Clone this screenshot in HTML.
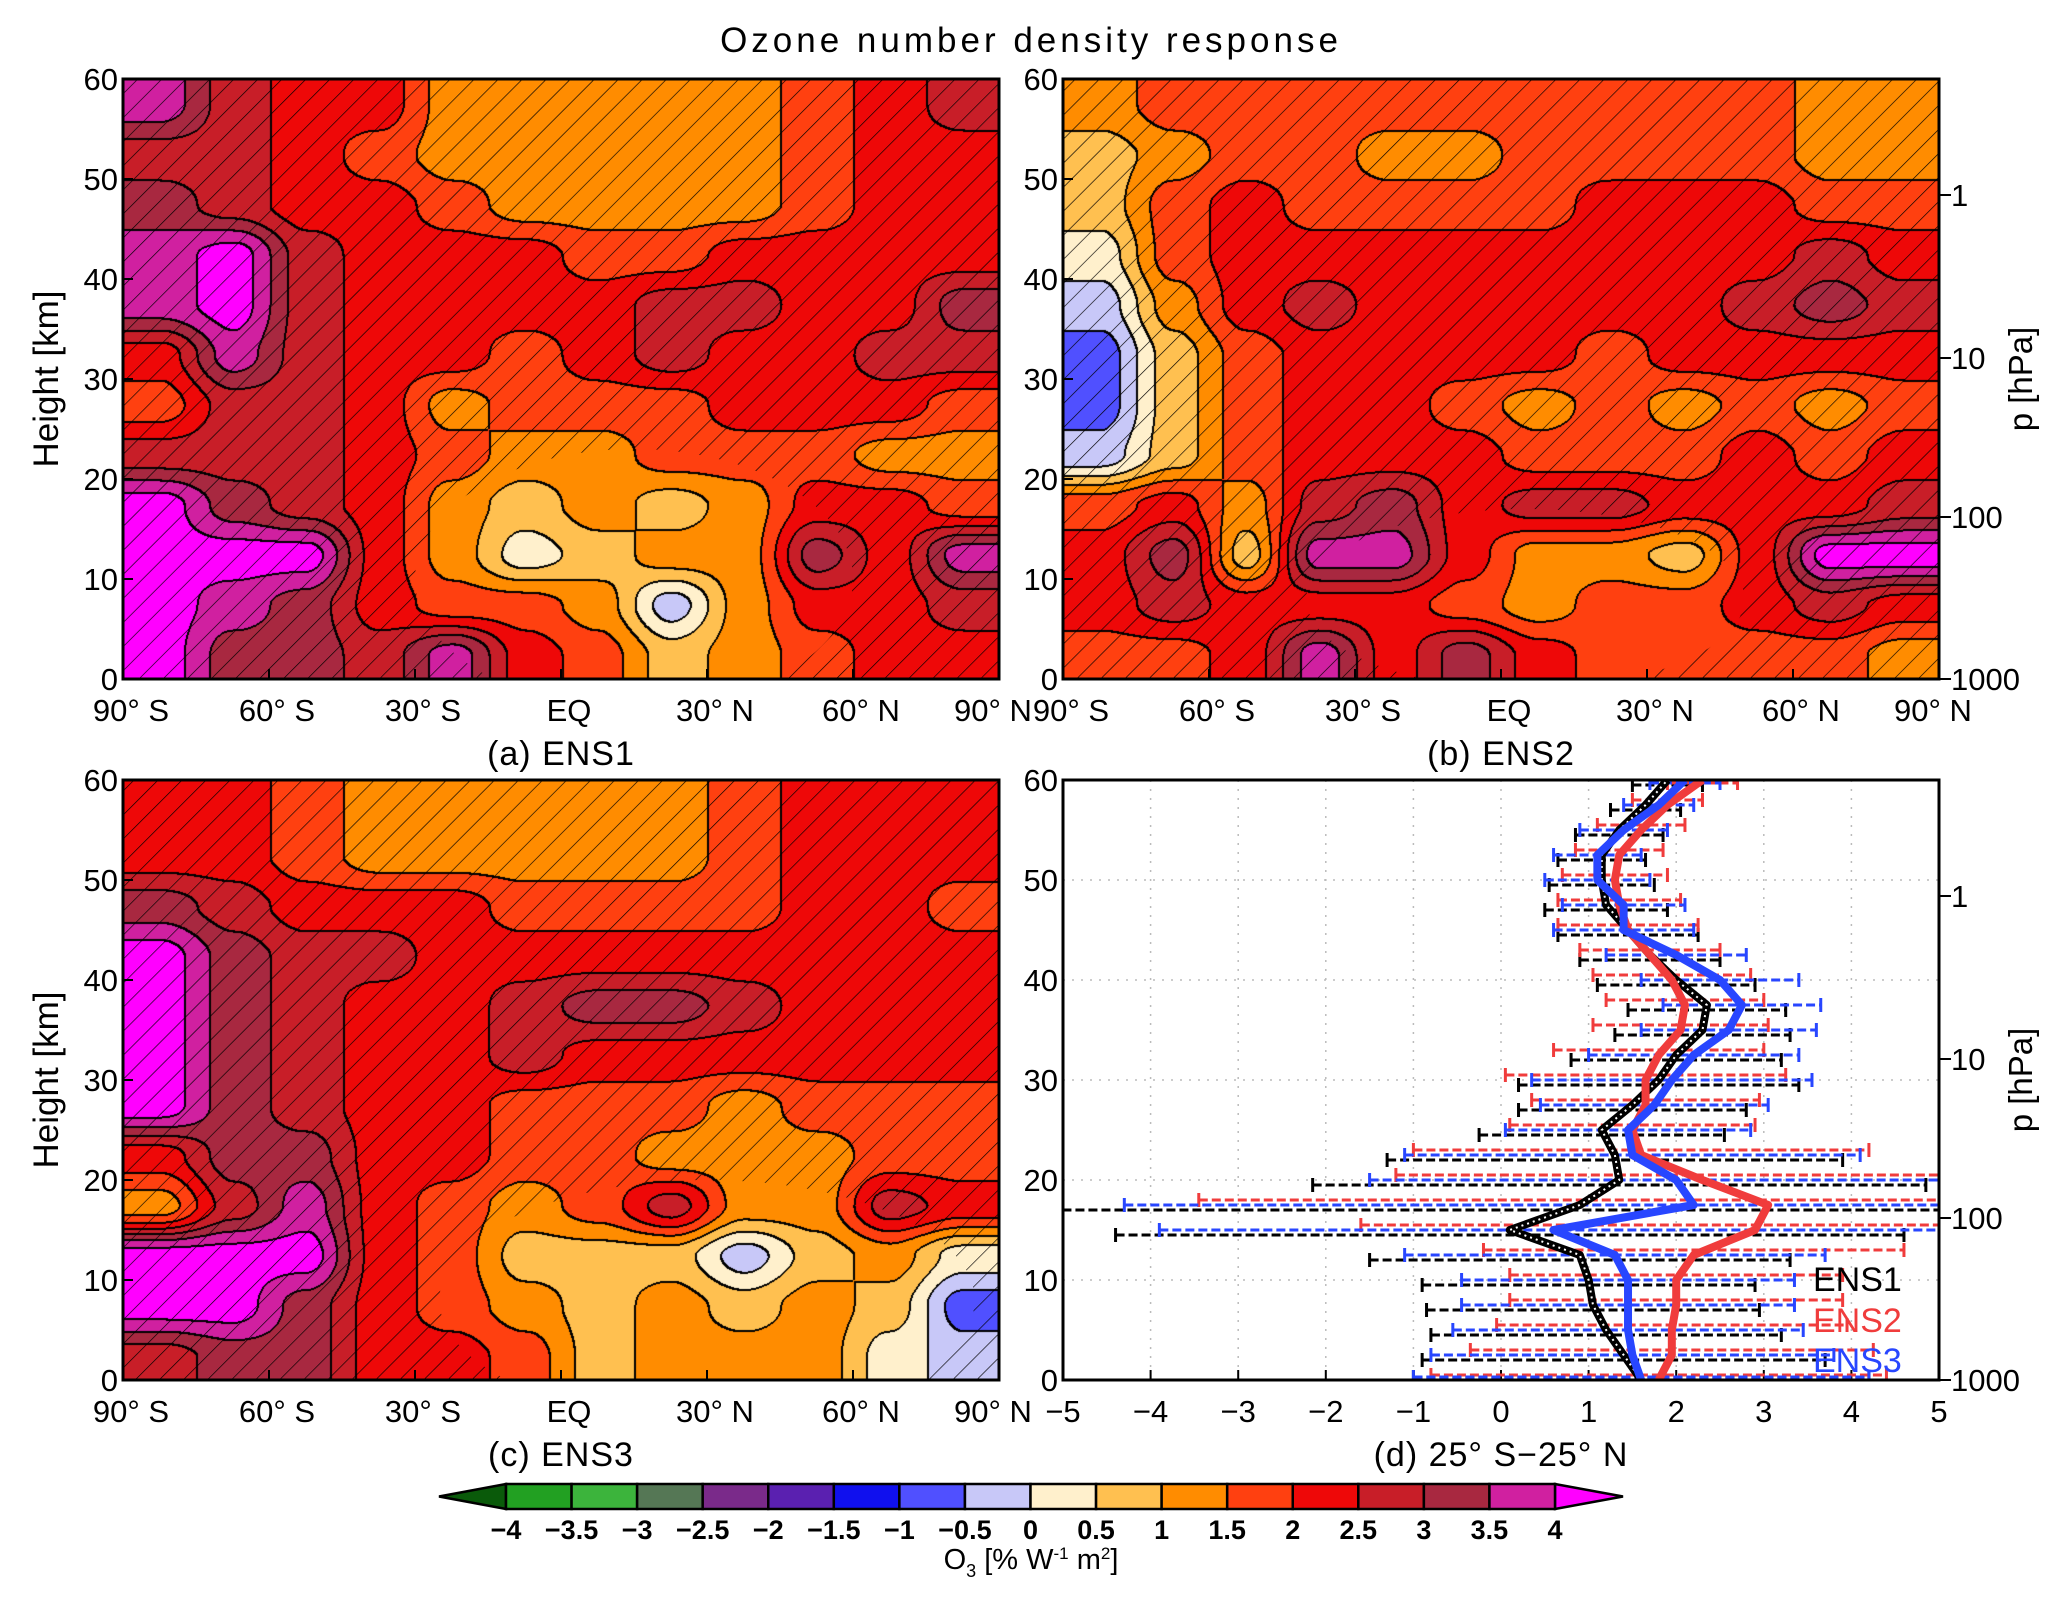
<!DOCTYPE html>
<html><head><meta charset="utf-8">
<style>
html,body{margin:0;padding:0;background:#fff;}
#wrap{position:relative;width:2067px;height:1605px;overflow:hidden;background:#fff;font-family:"Liberation Sans",sans-serif;}
canvas{position:absolute;}
svg{position:absolute;left:0;top:0;}
</style></head>
<body>
<div id="wrap">
<canvas id="ca" width="876" height="600" style="left:123px;top:79px"></canvas>
<canvas id="cb" width="876" height="600" style="left:1063px;top:79px"></canvas>
<canvas id="cc" width="876" height="600" style="left:123px;top:780px"></canvas>
<svg id="s" width="2067" height="1605" xmlns="http://www.w3.org/2000/svg">
<defs>
<pattern id="hatch" patternUnits="userSpaceOnUse" width="17" height="17" patternTransform="rotate(45)">
<line x1="0" y1="0" x2="0" y2="17" stroke="#000" stroke-width="1.3"/>
</pattern>
</defs>
</svg>
</div>
<script>
// ---------- data ----------
const lats = [-90,-60,-30,0,30,60,90];
const latLabels = ["90° S","60° S","30° S","EQ","30° N","60° N","90° N"];
const heightTicks = [0,10,20,30,40,50,60];
const pTicks = [1000,100,10,1];
const pTickHeights = [0,16.2,32.1,48.4];
// grids: rows top (55-60 km) to bottom (0-5 km), columns 90S -> 90N (15° each)
const ens1Grid = [
[3.5,2.5,2,2,1,1,1,1,1,1.5,2,2.5],
[2.5,2.5,2,1.5,1,1,1,1,1,1.5,2,2],
[3,2.5,2,2,1.5,1,1,1,1,1.5,2,2],
[3.5,4,2.5,2,2,2,1.5,1.5,2,2,2,2],
[3.5,4,2.5,2,2,2,2,2.5,2.5,2,2,3],
[2,3.5,2.5,2,2,1.5,2,2.5,2,2,2.5,2.5],
[1.5,2.5,2.5,2,1,1.5,1.5,1.5,2,2,2,1.5],
[2.5,2.5,2.5,2,1.5,1,1,1.5,1.5,1.5,1,1],
[4,3,2.5,2,1,0.5,1,0.5,1,2,2,1.5],
[4,4,4,2,1,0,0.5,1,1,3,2,3.5],
[4,3.5,3,2,1.5,1.5,1,-0.5,1,2,2,2.5],
[4,3,3,2.5,3.5,2,1.5,0.5,1,1.5,2,2]];
const ens2Grid = [
[1,1.5,1.5,1.5,1.5,1.5,1.5,1.5,1.5,1.5,1,1],
[0.5,1,1.5,1.5,1,1,1.5,1.5,1.5,1.5,1,1],
[0.5,1.5,2,1.5,1.5,1.5,1.5,2,2,2,1.5,1.5],
[0,1.5,2,2,2,2,2,2,2,2,2.5,2],
[-0.5,1,2,2.5,2,2,2,2,2,2.5,3,2.5],
[-1,0.5,1.5,2,2,2,2,1.5,2,2,2,2],
[-1,0.5,1.5,2,2,1.5,1,1.5,1,1.5,1,1.5],
[-0.5,0.5,1.5,2,2,2,1.5,1.5,1.5,2,1.5,2],
[1.5,2,1,2.5,3,2,2.5,2.5,2,2,2,2.5],
[2,3,0.5,3.5,3.5,2,1,1,0.5,2,4,4],
[2,2.5,2,2,2,1.5,1,1.5,1.5,2,2.5,2],
[1.5,1.5,2,3.5,2,3,2,1.5,1.5,1.5,1.5,1]];
const ens3Grid = [
[2,2,1.5,1,1,1,1,1,1.5,2,2,2],
[2,2,1.5,1,1,1,1,1,1.5,2,2,2],
[3,2.5,2,2,2,1.5,1.5,1.5,1.5,2,2,1.5],
[4,3,2.5,2.5,2,2,2,2,2,2,2,2],
[4,3,2.5,2,2,2.5,3,3,2.5,2,2,2],
[4,3,2.5,2,2,2.5,2,2,2,2,2,2],
[4,3,2.5,2,2,1.5,1.5,1.5,1,1.5,1.5,1.5],
[2,3,3,2,2,1.5,1.5,1,1,1,1.5,1.5],
[1,2.5,3.5,2,1.5,1,1.5,2.5,1,1,2.5,2],
[4,4,4,2,1.5,0.5,0.5,0.5,-0.5,0.5,1,0],
[4,4,3,2,1.5,1,0.5,1,0.5,1,0.5,-1],
[2.5,3,3,2,2,1.5,0.5,1,1,1,0,-0.5]];
// panel d profiles
const profHeights = [0,2.5,5,7.5,10,12.5,15,17.5,20,22.5,25,27.5,30,32.5,35,37.5,40,42.5,45,47.5,50,52.5,55,57.5,60];
const ens1Prof = [1.6,1.4,1.2,1.05,1.0,0.9,0.1,0.9,1.35,1.3,1.15,1.5,1.8,2.0,2.3,2.35,2.0,1.7,1.45,1.2,1.15,1.15,1.35,1.65,1.9];
const ens2Prof = [1.8,1.95,1.95,2.0,2.0,2.2,2.9,3.05,2.3,1.6,1.5,1.65,1.65,1.8,2.05,2.1,1.95,1.7,1.45,1.35,1.3,1.35,1.6,1.9,2.3];
const ens3Prof = [1.6,1.5,1.45,1.45,1.45,1.3,0.6,2.2,2.0,1.5,1.45,1.75,1.95,2.2,2.6,2.75,2.5,2.0,1.4,1.4,1.1,1.1,1.4,1.8,2.1];
const profErr = [2.6,2.3,2.0,1.9,1.9,2.4,4.5,6.5,3.5,2.6,1.4,1.3,1.6,1.2,1.0,0.9,0.9,0.8,0.8,0.7,0.6,0.5,0.5,0.4,0.4];
const xTicksD = [-5,-4,-3,-2,-1,0,1,2,3,4,5];
const cbLevels = ["−4","−3.5","−3","−2.5","−2","−1.5","−1","−0.5","0","0.5","1","1.5","2","2.5","3","3.5","4"];

// ---------- styles ----------
const colors = ["#0a5a0a","#22a022","#3cb43c","#557755","#7a2a8a","#5a20b0","#1010ee","#5050ff","#c8c8f8","#fff0cc","#ffc050","#ff8c00","#ff4010","#ee0808","#c81e28","#a82840","#d020a0","#ff00ff"];
const W=876,H=600;
const panels = {a:{x:123,y:79},b:{x:1063,y:79},c:{x:123,y:780},d:{x:1063,y:780}};
const NS="http://www.w3.org/2000/svg";
const svg=document.getElementById('s');
function el(tag,attrs,parent){const e=document.createElementNS(NS,tag);for(const k in attrs)e.setAttribute(k,attrs[k]);(parent||svg).appendChild(e);return e;}
function txt(x,y,s,size,anchor,extra){const t=el('text',Object.assign({x:x,y:y,'font-size':size,'text-anchor':anchor||'middle','font-family':'"Liberation Sans",sans-serif',fill:'#000'},extra||{}));t.textContent=s;return t;}
function hexRGB(h){return [parseInt(h.substr(1,2),16),parseInt(h.substr(3,2),16),parseInt(h.substr(5,2),16)];}
const rgb=colors.map(hexRGB);

function levelIdx(v){let i=Math.floor((v+0.25+4)/0.5)+1;return Math.max(0,Math.min(17,i));}
function sample(g,u,v){
  const nc=g[0].length,nr=g.length;
  u=Math.max(0,Math.min(nc-1,u));v=Math.max(0,Math.min(nr-1,v));
  const i0=Math.floor(u),j0=Math.floor(v),i1=Math.min(nc-1,i0+1),j1=Math.min(nr-1,j0+1);
  let fu=u-i0,fv=v-j0;fu=fu*fu*(3-2*fu);fv=fv*fv*(3-2*fv);
  return (g[j0][i0]*(1-fu)+g[j0][i1]*fu)*(1-fv)+(g[j1][i0]*(1-fu)+g[j1][i1]*fu)*fv;
}
function drawHeat(id,g){
  const c=document.getElementById(id),ctx=c.getContext('2d');
  const img=ctx.createImageData(W,H),d=img.data;
  const idx=new Uint8Array(W*H);
  const nc=g[0].length,nr=g.length;
  for(let y=0;y<H;y++)for(let x=0;x<W;x++){
    const u=x/W*nc-0.5,v=y/H*nr-0.5;
    idx[y*W+x]=levelIdx(sample(g,u,v));
  }
  for(let y=0;y<H;y++)for(let x=0;x<W;x++){
    const k=y*W+x;let col=rgb[idx[k]];
    let edge=(x>0&&idx[k-1]!==idx[k])||(y>0&&idx[k-W]!==idx[k])||(x>1&&idx[k-2]!==idx[k-1])||(y>1&&idx[k-2*W]!==idx[k-W]);
    if(edge)col=[0,0,0];
    d[k*4]=col[0];d[k*4+1]=col[1];d[k*4+2]=col[2];d[k*4+3]=255;
  }
  ctx.putImageData(img,0,0);
}
drawHeat('ca',ens1Grid);drawHeat('cb',ens2Grid);drawHeat('cc',ens3Grid);

function xLat(p,lat){return p.x+(lat+90)/180*W;}
function yH(p,h){return p.y+H-h/60*H;}

// hatch masks
const holes={a:{lat:15,h:10,rx:45,ry:13},b:{lat:5,h:8,rx:45,ry:9},c:{lat:30,h:8,rx:55,ry:12}};
const defs=svg.querySelector('defs');
for(const k of ['a','b','c']){
  const p=panels[k],ho=holes[k];
  const m=el('mask',{id:'m'+k},defs);
  el('rect',{x:p.x,y:p.y,width:W,height:H,fill:'#fff'},m);
  el('ellipse',{cx:xLat(p,ho.lat),cy:yH(p,ho.h),rx:ho.rx/180*W,ry:ho.ry/60*H,fill:'#000'},m);
  const r=el('rect',{x:p.x,y:p.y,width:W,height:H,fill:'url(#hatch)',mask:'url(#m'+k+')'});
  
  
}

// axes
const names={a:"(a)  ENS1",b:"(b)  ENS2",c:"(c)  ENS3",d:"(d)  25° S−25° N"};
for(const k of ['a','b','c','d']){
  const p=panels[k];
  const g=el('g',{});
  
  
  heightTicks.forEach(h=>{
    el('line',{x1:p.x,x2:p.x+10,y1:yH(p,h),y2:yH(p,h),stroke:'#000','stroke-width':2},g);
    const t=txt(p.x-5,yH(p,h)+11,String(h),31,'end');g.appendChild(t);
  });
  if(k!=='d'){
    lats.forEach((la,i)=>{
      el('line',{x1:xLat(p,la),x2:xLat(p,la),y1:p.y+H,y2:p.y+H-10,stroke:'#000','stroke-width':2},g);
      const t=txt(xLat(p,la)+(i===6?-6:8),p.y+H+42,latLabels[i],31,'middle');g.appendChild(t);
    });
  }
  if(k==='b'||k==='d'){
    pTicks.forEach((pv,i)=>{
      const y=yH(p,pTickHeights[i]);
      el('line',{x1:p.x+W,x2:p.x+W+12,y1:y,y2:y,stroke:'#000','stroke-width':2},g);
      const t=txt(p.x+W+12,y+11,String(pv),31,'start');g.appendChild(t);
    });
    const t=txt(2032,p.y+H/2,"p  [hPa]",33,'middle',{transform:'rotate(-90 2032 '+(p.y+H/2)+')'});
    
  }
  if(k==='a'||k==='c'){
    const cy=p.y+H/2;
    const t=txt(58,cy,"Height [km]",35,'middle',{transform:'rotate(-90 58 '+cy+')'});
    
  }
  const lab=txt(p.x+W/2,p.y+H+86,names[k],34,'middle',{'letter-spacing':'1'});
  
}

// panel d
const pd=panels.d;
function xD(v){return pd.x+(v+5)/10*W;}
el('rect',{x:pd.x,y:pd.y,width:W,height:H,fill:'#fff'});
const gd=el('g',{});

xTicksD.forEach(v=>{
  if(v>-5&&v<5)el('line',{x1:xD(v),x2:xD(v),y1:pd.y,y2:pd.y+H,stroke:'#bbb','stroke-width':1.5,'stroke-dasharray':'2 7'},gd);
  el('line',{x1:xD(v),x2:xD(v),y1:pd.y+H,y2:pd.y+H-10,stroke:'#000','stroke-width':2},gd);
  txt(xD(v),pd.y+H+42,v<0?"−"+Math.abs(v):String(v),31,'middle');
});
heightTicks.forEach(h=>{if(h>0&&h<60)el('line',{x1:pd.x,x2:pd.x+W,y1:yH(pd,h),y2:yH(pd,h),stroke:'#bbb','stroke-width':1.5,'stroke-dasharray':'2 7'},gd);});
const clip=el('clipPath',{id:'cd'},defs);
el('rect',{x:pd.x,y:pd.y,width:W,height:H},clip);
const series=[{name:'ENS1',vals:ens1Prof,col:'#000',off:-0.5},{name:'ENS2',vals:ens2Prof,col:'#f03c3c',off:0.5},{name:'ENS3',vals:ens3Prof,col:'#2846ff',off:0}];
const gb=el('g',{'clip-path':'url(#cd)'});
series.forEach(s=>{
  s.vals.forEach((v,i)=>{
    const h=profHeights[i]+s.off,y=yH(pd,Math.max(0.3,Math.min(59.7,h)));
    const e=profErr[i];
    const l=el('line',{x1:xD(v-e),x2:xD(v+e),y1:y,y2:y,stroke:s.col,'stroke-width':3,'stroke-dasharray':'9 4'},gb);
    
    
    el('line',{x1:xD(v-e),x2:xD(v-e),y1:y-7,y2:y+7,stroke:s.col,'stroke-width':3},gb);
    el('line',{x1:xD(v+e),x2:xD(v+e),y1:y-7,y2:y+7,stroke:s.col,'stroke-width':3},gb);
  });
});
series.forEach(s=>{
  const pts=s.vals.map((v,i)=>xD(v)+','+yH(pd,profHeights[i])).join(' ');
  const pl=el('polyline',{points:pts,fill:'none',stroke:s.col,'stroke-width':8,'stroke-linejoin':'round'},gb);
  
  
  if(s.name==='ENS1')el('polyline',{points:pts,fill:'none',stroke:'#fff','stroke-width':2,'stroke-dasharray':'2 4'},gb);
});
[['ENS1','#000',1291],['ENS2','#f03c3c',1332],['ENS3','#2846ff',1372]].forEach(a=>{
  const t=txt(1813,a[2],a[0],34,'start',{fill:a[1]});
  
});

// frames
for(const k in panels){const p=panels[k];const f=el('rect',{x:p.x,y:p.y,width:W,height:H,fill:'none',stroke:'#000','stroke-width':3});}

// title
const tt=txt(1031,52,"Ozone number density response",35,'middle',{'letter-spacing':'4'});


// colorbar
const cb=el('g',{});

const cbx0=506,cbx1=1555,cby=1484,cbh=25,bw=(cbx1-cbx0)/16;
el('polygon',{points:`${cbx0},${cby} ${cbx0},${cby+cbh} 439,${cby+cbh/2}`,fill:colors[0],stroke:'#000','stroke-width':2.5},cb);
el('polygon',{points:`${cbx1},${cby} ${cbx1},${cby+cbh} 1623,${cby+cbh/2}`,fill:colors[17],stroke:'#000','stroke-width':2.5},cb);
for(let i=0;i<16;i++)el('rect',{x:cbx0+i*bw,y:cby,width:bw,height:cbh,fill:colors[i+1],stroke:'#000','stroke-width':2.5},cb);
cbLevels.forEach((s,i)=>{txt(cbx0+i*bw,1539,s,27,'middle',{'font-weight':'bold'});});
const ut=txt(1031,1569,"",29,'middle');
ut.innerHTML='O<tspan font-size="18" dy="8">3</tspan><tspan dy="-8"> [% W</tspan><tspan font-size="17" dy="-10">-1</tspan><tspan dy="10"> m</tspan><tspan font-size="17" dy="-10">2</tspan><tspan dy="10">]</tspan>';

</script>
</body></html>
